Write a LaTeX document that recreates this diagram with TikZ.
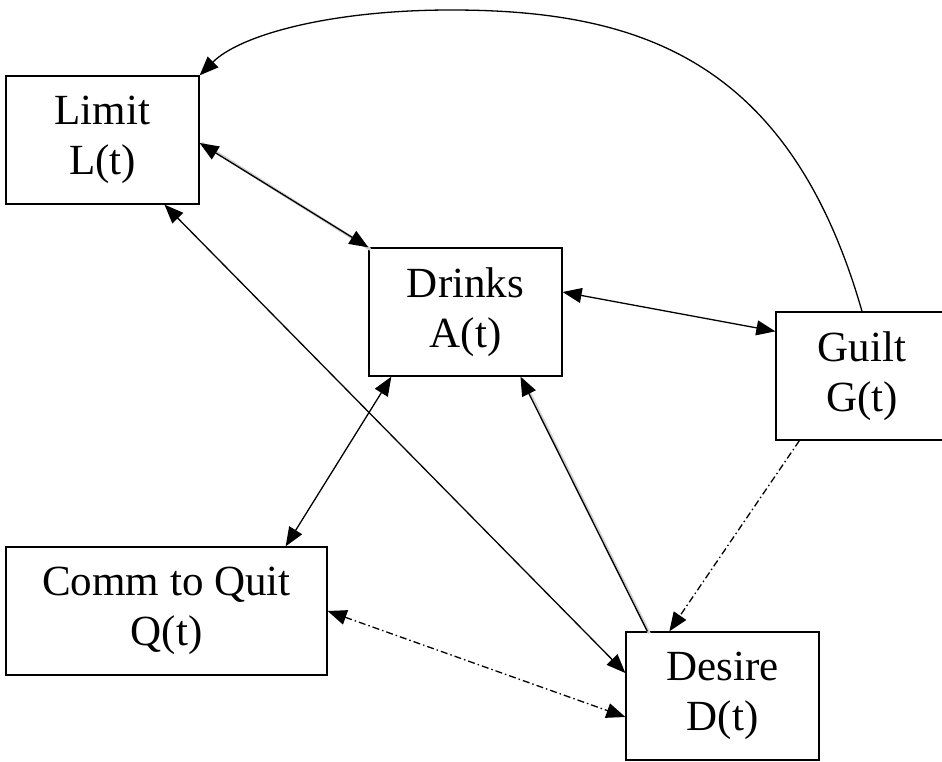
\documentclass[tikz,border=0pt]{standalone}
\usepackage{fontspec}
\setmainfont{Liberation Serif}
\usetikzlibrary{arrows.meta}
\tikzset{
  box/.style={draw, line width=1.3pt, inner sep=0pt, minimum width=193pt, minimum height=128pt,
    align=center, font=\fontsize{43}{50}\selectfont},
  conn/.style={line width=1.3pt},
  bigtip/.tip={Triangle[length=19pt,width=15pt]},
  dd/.style={dash pattern=on 7pt off 3pt on 1.5pt off 3pt},
  shade/.style={line width=3pt, black!18},
}
\begin{document}
\begin{tikzpicture}[x=1pt,y=-1pt]
\useasboundingbox (0,0) rectangle (942,762);
\fill[white] (0,0) rectangle (942,762);
\node[box] (L) at (102.5,140) {Limit\\L(t)};
\node[box] (A) at (465.5,312) {Drinks\\A(t)};
\node[box, minimum width=172pt] (G) at (862,376) {Guilt\\G(t)};
\node[box, minimum width=321pt] (Q) at (166.5,611) {Comm to Quit\\Q(t)};
\node[box] (D) at (722.5,696) {Desire\\D(t)};
\coordinate (c1) at (451,10);
% shadows
\draw[shade] ([xshift=2pt,yshift=-3pt]L.east) -- ([xshift=2pt,yshift=-2pt]A.north west);
\draw[shade] ([xshift=24pt,yshift=-2pt]D.north west) -- ([xshift=57pt,yshift=-2pt]A.south);
% connectors
\draw[conn,{bigtip}-{bigtip}] ([yshift=-3pt]L.east) -- (A.north west);
\draw[conn,{bigtip}-{bigtip}] ([yshift=20pt]A.east) -- ([yshift=-20pt]G.north west);
\draw[conn,{bigtip}-{bigtip}] ([xshift=23pt]A.south west) -- ([xshift=-42pt]Q.north east);
\draw[conn,{bigtip}-{bigtip}] ([xshift=62pt]L.south) -- ([yshift=23pt]D.west);
\draw[conn,-{bigtip}] ([xshift=22pt]D.north west) -- ([xshift=55pt]A.south);
\draw[conn,dd,-{bigtip}] ([xshift=24pt]G.south west) -- ([xshift=44pt]D.north west);
\draw[conn,dd,{bigtip}-{bigtip}] (Q.east) -- ([yshift=-21pt]D.west);
\draw[conn,-{bigtip}] (G.north) .. controls (790,60) and (640,10) .. (c1)
  .. controls (330,10) and (240,35) .. (L.north east);
\end{tikzpicture}
\end{document}
